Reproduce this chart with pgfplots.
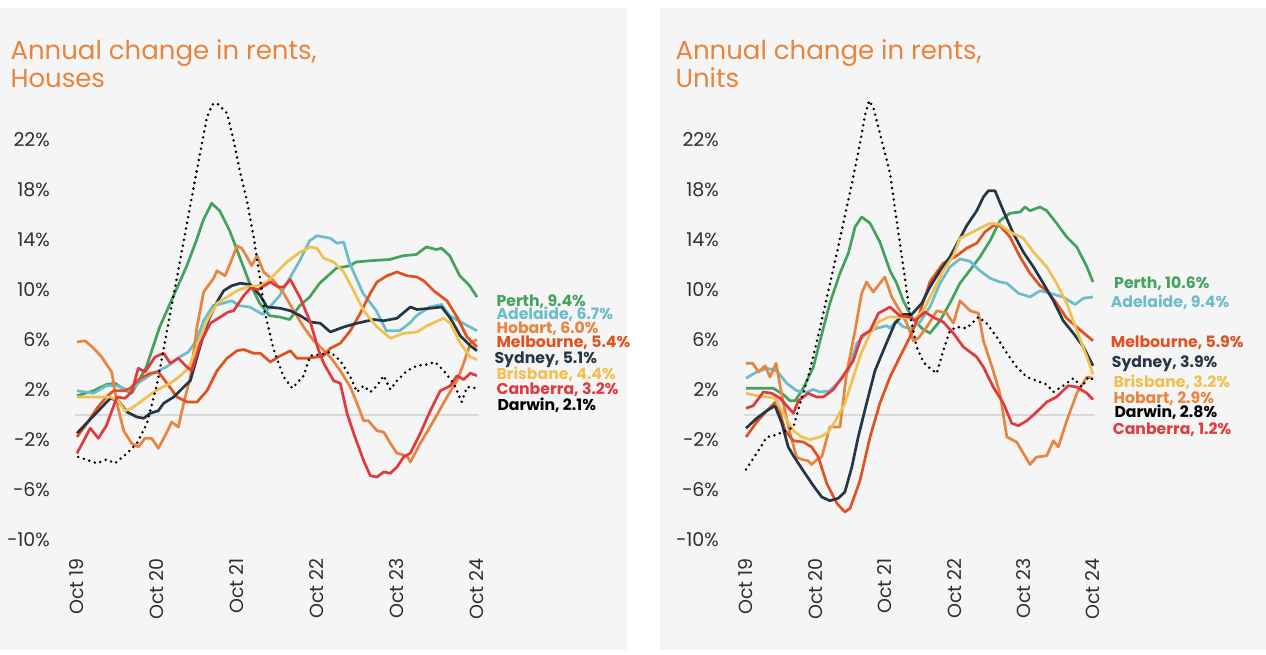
\documentclass[border=0pt]{standalone}
\usepackage{pgfplots}
\pgfplotsset{compat=1.18}
\usepackage{fontspec}
\setmainfont{Poppins}

\definecolor{perth}{HTML}{43A35C}
\definecolor{adelaide}{HTML}{6CBCCB}
\definecolor{hobart}{HTML}{E8843E}
\definecolor{melbourne}{HTML}{E0521F}
\definecolor{sydney}{HTML}{253746}
\definecolor{brisbane}{HTML}{F0C050}
\definecolor{canberra}{HTML}{E03A3E}
\definecolor{titleor}{HTML}{E8843E}
\definecolor{panel}{HTML}{F5F5F5}

\pgfplotsset{
  rentaxis/.style={
    scale only axis, height=450pt,
    xmin=0, xmax=60, ymin=-10, ymax=26,
    axis line style={draw=none}, tick style={draw=none},
    xtick={0,12,24,36,48,60},
    xticklabels={Oct 19,Oct 20,Oct 21,Oct 22,Oct 23,Oct 24},
    ytick={-10,-6,...,22},
    yticklabels={−10\%,−6\%,−2\%,2\%,6\%,10\%,14\%,18\%,22\%},
    ticklabel style={font=\fontsize{19}{21}\selectfont, inner sep=0pt, text=black!82},
    xticklabel style={yshift=-18.5pt, rotate=90, anchor=east},
    yticklabel style={anchor=east, xshift=-27pt},
    clip=false,
    every axis plot/.append style={line width=2.7pt, line join=round, no markers},
  },
  darwin/.style={black, line width=2.8pt, line cap=round, dash pattern=on 0pt off 5.8pt},
}

\begin{document}
\begin{tikzpicture}[x=1pt,y=1pt]
\useasboundingbox (0,0) rectangle (1266,654);
\fill[panel] (0,4) rectangle (627,646);
\fill[panel] (660,4) rectangle (1266,646);

% ---------------- Houses ----------------
\node[anchor=base west, text=titleor, font=\fontsize{26}{28}\selectfont] at (7,594) {Annual change in rents,};
\node[anchor=base west, text=titleor, font=\fontsize{26}{28}\selectfont] at (7,566) {Houses};

\begin{axis}[rentaxis, at={(77pt,114.5pt)}, anchor=south west, width=400pt]
\addplot[black!15, line width=2pt, forget plot] coordinates {(-0.3,0) (60.3,0)};
% Perth
\addplot[perth] coordinates {(0,1.5) (2.5,1.9) (4.4,2.4) (5.7,2.5) (7.4,1.9) (8.2,1.7) (10.4,3.8) (12.4,7.0) (14.4,9.4) (16.4,11.8) (17.9,13.9) (18.9,15.5) (20.2,16.9) (21.4,16.3) (22.9,14.7) (24.4,12.6) (25.9,10.5) (27.4,8.9) (28.9,7.9) (30.4,7.8) (31.9,7.6) (33.4,8.7) (34.9,9.4) (36.4,10.5) (38.9,11.7) (40.9,11.9) (41.9,12.2) (43.9,12.3) (46.9,12.4) (48.9,12.7) (50.9,12.8) (52.4,13.4) (53.9,13.2) (54.7,13.3) (55.9,12.7) (57.4,11.1) (58.9,10.3) (60,9.4)};
% Adelaide
\addplot[adelaide] coordinates {(0,1.9) (2.5,1.7) (4.4,2.3) (6,2.3) (7.9,1.9) (9.4,2.6) (11.4,3.3) (13.4,3.8) (15.4,4.6) (16.7,5.0) (17.9,5.9) (19,7.5) (20.4,8.7) (21.9,8.9) (23.2,9.1) (24.4,8.7) (25.9,8.6) (27.9,8.0) (28.9,8.6) (30.4,9.5) (31.9,10.9) (33.4,12.3) (34.9,13.9) (36,14.3) (38,14.1) (39,13.7) (40,13.8) (40.9,12.1) (42.9,9.7) (44.9,8.3) (46.4,6.7) (48.4,6.7) (49.9,7.3) (50.9,7.9) (52.9,8.6) (54.7,8.8) (55.9,7.9) (57.9,7.3) (60,6.7)};
% Hobart
\addplot[hobart] coordinates {(0,5.8) (1.2,5.9) (2.5,5.3) (3.7,4.6) (5.2,3.4) (6,0.9) (7,-1.3) (8.2,-2.3) (9.2,-2.6) (10.2,-1.9) (11.2,-1.9) (12.2,-2.7) (13.5,-1.4) (14.2,-0.6) (15.2,-1.0) (16,0.9) (17,3.0) (18,7.0) (19,9.8) (20.5,10.9) (21,11.5) (22.2,11.1) (23,12.1) (24,13.5) (24.7,13.3) (25.5,12.6) (26.2,11.9) (27,12.7) (28,11.4) (29.5,10.7) (31,9.7) (32.5,8.3) (34,7.0) (35.5,5.9) (36.5,5.4) (38,4.6) (39.5,3.5) (41,2.2) (42,0.9) (43,-0.5) (43.7,-0.5) (45,-1.3) (46,-1.4) (47,-2.3) (48,-3.1) (49.5,-3.3) (50,-3.8) (51.5,-2.3) (53.5,-0.5) (55.5,1.4) (57,2.7) (58,4.1) (59,5.7) (60,6.0)};
% Melbourne
\addplot[melbourne] coordinates {(0,-1.8) (1.5,-0.7) (3,0.5) (4.4,1.4) (5.5,1.9) (7,1.9) (8,2.1) (9.5,2.9) (11,3.3) (12.2,3.4) (13.5,2.5) (15,1.4) (16.5,1.0) (18,1.0) (19.5,1.9) (21,3.5) (22.5,4.5) (24,5.1) (25,5.2) (26.5,4.9) (27.5,4.9) (29,4.2) (30.5,4.7) (32,5.1) (33,4.5) (34.5,4.5) (36,4.6) (37,4.7) (38,5.3) (39.5,5.7) (41,6.7) (42.5,8.1) (44,9.7) (45,10.6) (46.5,11.1) (48,11.4) (49.5,11.1) (51,11.0) (52,10.7) (53.5,9.9) (55.5,9.1) (57,7.8) (58.5,6.2) (60,5.4)};
% Sydney
\addplot[sydney] coordinates {(0,-1.5) (2.5,-0.1) (5,1.3) (6.2,1.1) (7.5,0.2) (9,-0.2) (10,-0.3) (11,0.1) (12.2,0.3) (13,0.9) (14.5,1.4) (16,2.2) (17,2.7) (18,4.6) (19.5,7.3) (21,9.0) (22,9.9) (23.2,10.3) (24.5,10.5) (26,10.4) (27.5,9.5) (28.5,8.6) (30.5,8.5) (32,8.3) (33.5,7.9) (35,7.4) (36.5,7.3) (38,6.6) (40,7.0) (42,7.3) (44.5,7.6) (46,7.5) (48,7.7) (50,8.6) (51,8.4) (53,8.5) (54.7,8.6) (56,7.7) (57.5,6.3) (59,5.5) (60,5.1)};
% Brisbane
\addplot[brisbane] coordinates {(0,1.4) (2.5,1.4) (5,1.4) (6.2,1.1) (7.2,0.3) (8.2,0.5) (9.5,1.0) (11,1.6) (12.5,2.1) (14,2.5) (15.5,3.1) (16.7,3.7) (18,5.4) (19.5,7.5) (21,8.9) (22.5,9.4) (24,9.9) (25.5,10.2) (27,10.3) (28.5,10.6) (30,11.4) (31.5,12.2) (33.5,13.0) (35,13.4) (36,13.3) (37,12.5) (38.5,12.2) (40,11.4) (41.5,9.9) (43,8.3) (45,7.0) (47,6.1) (49,6.5) (51,6.6) (52.5,7.1) (55,7.7) (56,7.3) (57.5,5.7) (59,4.6) (60,4.4)};
% Canberra
\addplot[canberra] coordinates {(0,-3.1) (1,-2.1) (2,-1.1) (3.2,-1.9) (4.4,-0.9) (6,1.4) (7.2,1.3) (8.2,1.8) (9.2,3.7) (10.2,3.4) (11.7,4.6) (13,4.9) (14,4.1) (15.2,4.5) (16.5,3.8) (17.2,3.5) (18.5,5.7) (20,7.3) (21.5,7.8) (22.7,8.2) (23.5,8.3) (25,9.5) (26,10.1) (27.2,10.0) (29,10.6) (30.2,10.2) (31,10.2) (32,10.8) (33.5,9.3) (35,7.4) (36.2,5.2) (37,4.1) (38.5,2.7) (39.5,2.5) (40.5,0.1) (41.5,-1.5) (43,-3.7) (44,-4.9) (45,-5.0) (46,-4.6) (47,-4.7) (48,-4.2) (49,-3.4) (50,-3.1) (51.5,-1.5) (53,0.3) (54.5,1.9) (56,2.3) (57,3.1) (58,2.8) (59,3.3) (60,3.1)};
% Darwin
\addplot[darwin] coordinates {(0.2,-3.4) (3,-3.9) (4.4,-3.6) (5.7,-3.9) (7.5,-3.1) (9,-2.3) (10.5,-0.7) (12,2.4) (13.5,6.7) (15,11.0) (16.5,15.3) (18,19.6) (19.5,23.8) (20.3,24.8) (21,24.9) (22.5,24.1) (23.5,21.9) (24.5,19.3) (25.5,17.1) (26.5,14.2) (27.5,10.7) (28.2,8.1) (29.5,5.2) (31,3.0) (32.3,2.1) (34,3.1) (35,4.7) (36.5,4.8) (38,5.0) (39.5,4.3) (41,3.0) (42,1.8) (43,2.3) (44,1.8) (45,2.3) (46,3.1) (47,2.0) (48,2.7) (49.5,3.5) (51,3.9) (52.5,4.0) (53.7,4.2) (55,3.5) (56.5,2.5) (57.7,1.0) (58.5,2.2) (60,2.1)};
\end{axis}

\begin{scope}[font=\fontsize{15.7}{18}\selectfont\bfseries]
\node[anchor=base west, text=perth]     at (493,347.5) {Perth, 9.4\%};
\node[anchor=base west, text=adelaide]  at (493,334) {Adelaide, 6.7\%};
\node[anchor=base west, text=hobart]    at (493,320) {Hobart, 6.0\%};
\node[anchor=base west, text=melbourne] at (493,306) {Melbourne, 5.4\%};
\node[anchor=base west, text=sydney]    at (491,290) {Sydney, 5.1\%};
\node[anchor=base west, text=brisbane]  at (493,274) {Brisbane, 4.4\%};
\node[anchor=base west, text=canberra]  at (493,259) {Canberra, 3.2\%};
\node[anchor=base west, text=black]     at (494,243.5) {Darwin, 2.1\%};
\end{scope}

% ---------------- Units ----------------
\node[anchor=base west, text=titleor, font=\fontsize{26}{28}\selectfont] at (672,594) {Annual change in rents,};
\node[anchor=base west, text=titleor, font=\fontsize{26}{28}\selectfont] at (672,566) {Units};

\begin{axis}[rentaxis, at={(746pt,114.5pt)}, anchor=south west, width=347pt]
\addplot[black!15, line width=2pt, forget plot] coordinates {(-0.3,0) (60.3,0)};
% Perth
\addplot[perth] coordinates {(0,2.1) (3,2.1) (4.7,2.1) (6.45,1.6) (7.6,1.1) (8.5,1.1) (9.9,2.1) (11.65,3.8) (12.8,5.9) (14.5,8.9) (16.25,11.3) (17.7,12.9) (18.85,15.0) (20,15.8) (21.45,15.3) (23.15,13.8) (24.9,11.5) (26.05,10.5) (27.2,9.1) (28.65,7.8) (30.4,6.9) (31.8,6.5) (33.55,7.5) (35.25,8.9) (37,10.5) (38.15,11.2) (40.45,12.6) (42.2,13.9) (43.9,15.5) (45.65,16.1) (47.4,16.2) (48.25,16.6) (49.1,16.3) (50.85,16.6) (52,16.3) (53.7,15.3) (55.45,14.2) (57.2,13.4) (58.95,11.8) (60,10.6)};
% Adelaide
\addplot[adelaide] coordinates {(0,2.9) (1.85,3.4) (3.6,3.7) (5.3,3.5) (7.05,2.5) (8.75,1.9) (10.5,1.8) (11.65,2.0) (12.8,1.8) (14.5,1.9) (16.25,2.7) (17.7,3.5) (19.15,5.7) (20.85,6.5) (22.6,6.9) (24.35,7.1) (24.9,6.9) (26.05,7.5) (27.2,7.0) (28.65,6.9) (30.1,7.4) (31.8,8.6) (33.55,10.5) (35.25,11.8) (37,12.45) (38.75,12.25) (40.45,11.5) (42.2,10.9) (43.9,10.6) (45.1,10.5) (47.1,9.7) (49.1,9.4) (50.85,9.9) (52.55,9.7) (54.85,9.4) (56.9,8.8) (58.35,9.3) (60,9.4)};
% Hobart
\addplot[hobart] coordinates {(0,4.1) (1.15,4.1) (2.15,3.4) (3.3,3.9) (4.15,3.0) (5.2,4.1) (6.45,0.9) (7.6,-1.5) (8.75,-3.4) (9.65,-3.6) (10.75,-3.7) (11.35,-4.0) (12.5,-3.5) (13.1,-3.4) (14.5,-1.0) (16.25,-1.0) (17.4,3.3) (18.85,6.7) (20,9.7) (20.85,10.6) (22,9.8) (24,11.0) (25.2,9.4) (26.6,8.3) (27.8,7.3) (28.95,5.9) (29.8,6.1) (31.25,7.0) (33,8.3) (34.7,8.1) (35.85,7.3) (37,9.1) (38.75,8.3) (40.2,8.1) (41.05,5.9) (42.75,3.5) (43.9,1.7) (45.1,-1.8) (46.8,-2.2) (47.95,-3.1) (49.1,-4.0) (50.25,-3.4) (52,-3.3) (53.15,-2.1) (54,-2.6) (55.45,-0.5) (57.2,1.7) (58.95,3.0) (60,2.9)};
% Melbourne
\addplot[melbourne] coordinates {(0,-1.8) (1.85,-0.6) (3.6,0.3) (5.3,1.1) (6.75,-1.3) (8.2,-2.1) (9.9,-2.2) (11.35,-2.6) (12.5,-3.4) (13.95,-5.5) (15.7,-7.1) (17.1,-7.8) (18,-7.5) (19.7,-5.3) (21.45,-1.8) (23.15,0.9) (24.9,3.0) (26.6,4.6) (28.35,6.2) (29.8,7.8) (31.8,10.6) (34.1,12.1) (36.45,12.7) (38.15,13.3) (39.9,13.7) (41.3,14.6) (42.75,15.1) (43.9,15.1) (45.65,14.2) (47.4,12.6) (49.1,11.3) (50.85,10.3) (52,9.9) (53.7,8.9) (55.45,7.7) (57.2,7.0) (58.95,6.3) (60,5.9)};
% Sydney
\addplot[sydney] coordinates {(0,-1.1) (1.85,-0.3) (3.6,0.3) (5,0.7) (6.2,-0.7) (7.3,-2.6) (8.2,-3.3) (9.9,-4.5) (11.65,-5.7) (13.1,-6.6) (14.5,-6.9) (15.95,-6.7) (17.1,-6.2) (18.3,-4.2) (19.4,-1.8) (20.85,0.9) (22.3,3.5) (24,5.4) (25.75,7.3) (27.2,8.0) (28.65,8.0) (30.4,8.9) (31.8,10.2) (33.55,11.5) (35.25,12.6) (37,14.1) (38.15,15.1) (39.9,16.3) (41.05,17.4) (41.9,17.9) (43.05,17.9) (44.5,16.3) (46.2,14.5) (47.95,13.0) (49.7,11.8) (51.4,10.5) (53.15,9.1) (54.85,7.5) (56.6,6.5) (58.35,5.4) (60,3.9)};
% Brisbane
\addplot[brisbane] coordinates {(0,1.7) (1.85,1.5) (3.6,1.4) (5,1.3) (6.75,-0.2) (8.2,-1.3) (9.65,-1.8) (11.05,-2.0) (12.8,-1.8) (14.25,-1.4) (15.7,-0.3) (17.1,0.9) (18.55,3.0) (20,5.0) (21.45,6.5) (22.9,7.4) (24.6,7.8) (26.05,7.8) (27.8,7.7) (29.2,7.7) (30.65,8.3) (32.4,9.9) (34.1,11.5) (35.85,12.7) (37,14.1) (38.75,14.5) (40.45,14.9) (42.2,15.3) (43.9,15.2) (45.65,14.6) (47.95,14.1) (49.7,13.0) (52,11.8) (53.7,10.5) (55.45,8.9) (57.2,6.7) (58.95,4.6) (60,3.2)};
% Canberra
\addplot[canberra] coordinates {(0,0.5) (1.25,0.7) (3,1.8) (4.45,1.7) (5.9,1.3) (7.05,0.7) (8.2,0.1) (9.05,1.1) (10.75,1.7) (12.2,1.4) (13.35,1.4) (15.1,2.0) (16.8,3.1) (18.55,4.3) (20,6.3) (21.45,6.7) (22.9,8.1) (24.9,8.6) (26.6,7.9) (28.35,7.8) (29.2,7.5) (30.95,8.2) (32.7,7.7) (34.1,7.4) (35.85,6.5) (37.6,5.4) (38.75,5.0) (39.9,4.6) (41.05,3.8) (42.75,2.2) (44.5,0.9) (45.95,-0.7) (47.1,-0.9) (48.55,-0.5) (50.25,0.2) (52,1.0) (53.7,1.4) (55.7,2.3) (57.2,2.2) (58.95,1.7) (60,1.2)};
% Darwin
\addplot[darwin] coordinates {(0,-4.4) (1.85,-3.1) (3.6,-1.8) (4.7,-1.7) (6.45,-1.4) (8.2,-1.0) (9.35,0.9) (10.75,3.0) (12.5,6.3) (14,9.4) (15.7,12.9) (17.1,15.9) (18.5,18.9) (19.8,21.9) (20.6,24.0) (21.3,25.1) (22,24.6) (23.15,22.5) (24.9,19.3) (26.05,15.5) (27.2,11.8) (28.35,8.0) (29.5,5.4) (30.65,4.2) (31.8,3.7) (33,3.3) (34.1,5.1) (35.25,6.7) (36.45,7.0) (38.15,6.9) (40.2,7.8) (41.6,7.3) (43.35,6.2) (45.1,4.9) (46.8,3.8) (48.55,3.0) (50.25,2.7) (52,2.4) (53.15,1.8) (54.85,2.3) (56.6,2.9) (58.05,2.2) (59.2,3.0) (60,2.8)};
\end{axis}

\begin{scope}[font=\fontsize{15.7}{18}\selectfont\bfseries]
\node[anchor=base west, text=perth]     at (1110.7,365) {Perth, 10.6\%};
\node[anchor=base west, text=adelaide]  at (1107.3,346.5) {Adelaide, 9.4\%};
\node[anchor=base west, text=melbourne] at (1107.3,306) {Melbourne, 5.9\%};
\node[anchor=base west, text=sydney]    at (1108.3,286) {Sydney, 3.9\%};
\node[anchor=base west, text=brisbane]  at (1110,266.5) {Brisbane, 3.2\%};
\node[anchor=base west, text=hobart]    at (1110,251) {Hobart, 2.9\%};
\node[anchor=base west, text=black]     at (1111,236.5) {Darwin, 2.8\%};
\node[anchor=base west, text=canberra]  at (1109.3,220) {Canberra, 1.2\%};
\end{scope}
\end{tikzpicture}
\end{document}
